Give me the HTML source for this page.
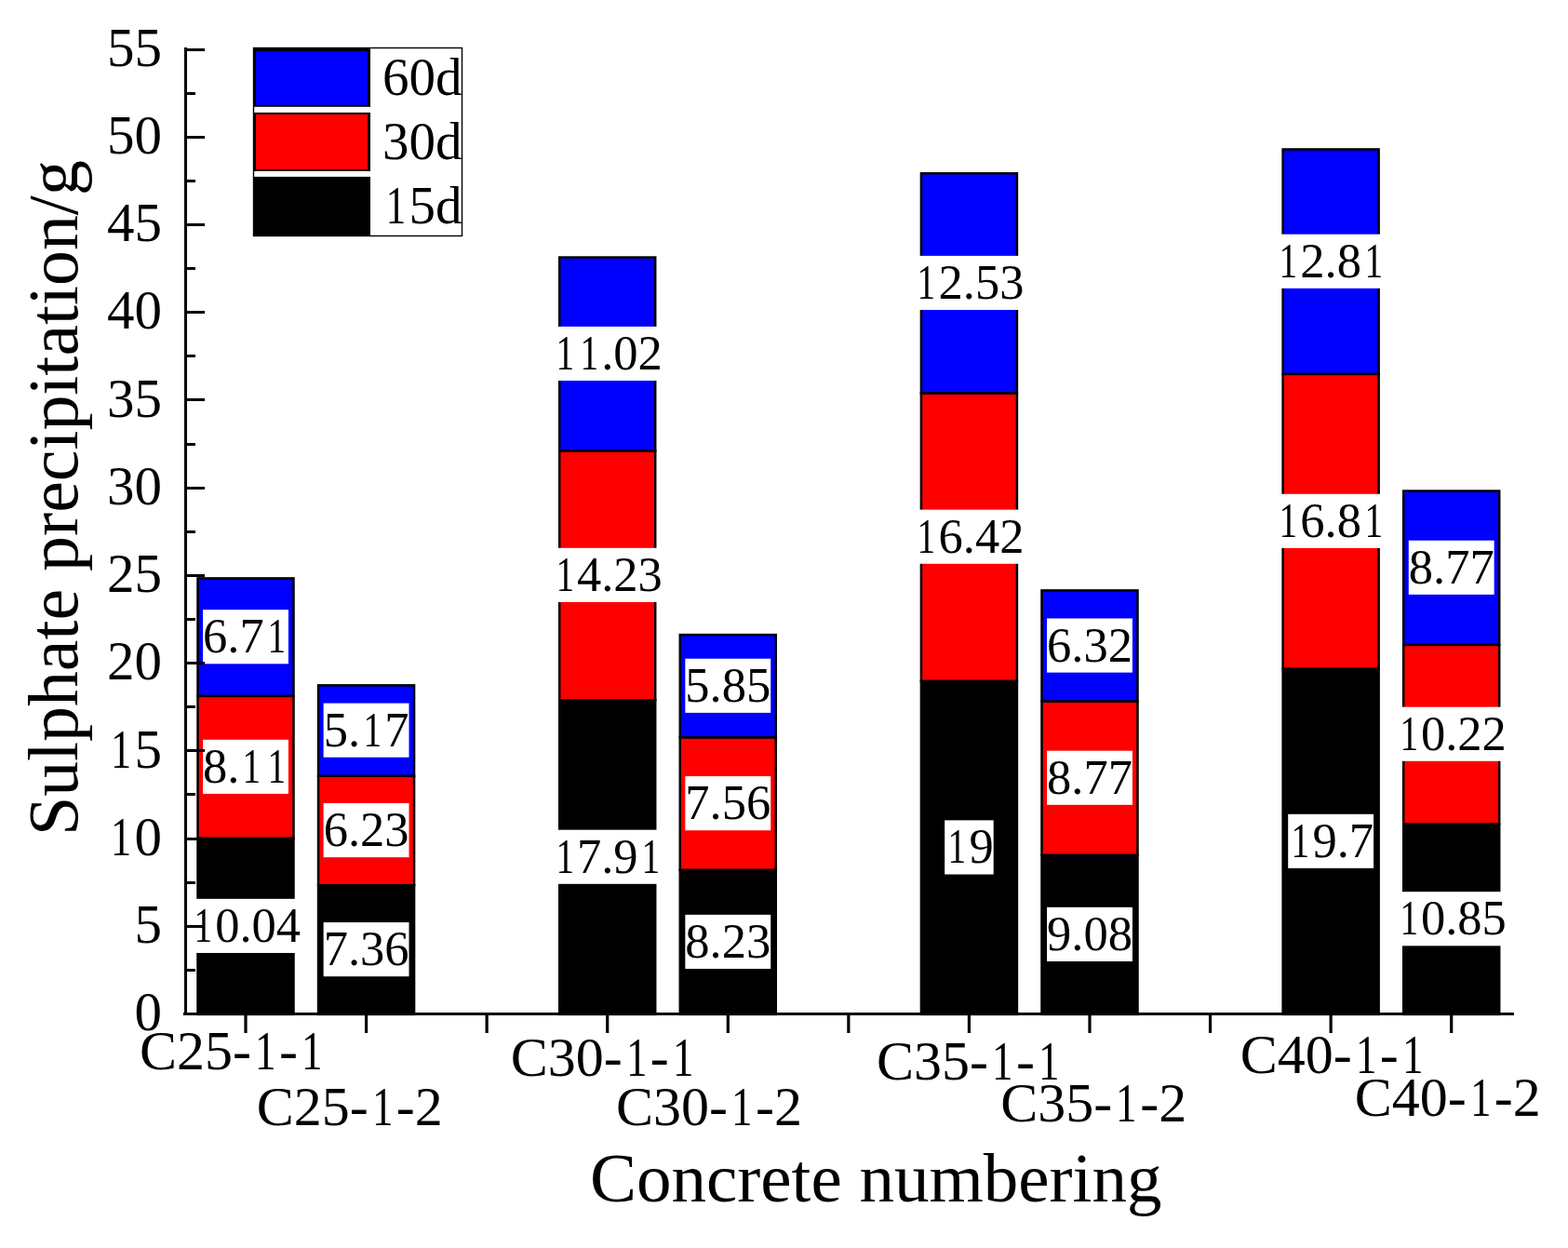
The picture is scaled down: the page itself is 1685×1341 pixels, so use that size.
<!DOCTYPE html><html><head><meta charset="utf-8"><title>Sulphate precipitation chart</title><style>
html,body{margin:0;padding:0;background:#fff;width:1685px;height:1341px;overflow:hidden;position:relative}
svg{display:block;position:absolute;left:0;top:0}
.t{position:absolute;white-space:nowrap;font-family:"Liberation Serif","Times New Roman",serif;color:#000;line-height:1.1074em;margin:0;padding:0}
.o{display:inline-block;transform-origin:0.2639em 0;transform:translateX(0.0000em) scaleX(0.75)}
</style></head><body>
<svg width="1685" height="1341" viewBox="0 0 1685 1341">
<rect x="0" y="0" width="1685" height="1341" fill="#fff"/>
<rect x="212.50" y="900.70" width="103.00" height="189.20" fill="#000000" stroke="#000" stroke-width="2.5"/>
<rect x="212.50" y="747.86" width="103.00" height="152.83" fill="#ff0000" stroke="#000" stroke-width="2.5"/>
<rect x="212.50" y="621.41" width="103.00" height="126.45" fill="#0000ff" stroke="#000" stroke-width="2.5"/>
<rect x="342.07" y="951.20" width="103.00" height="138.70" fill="#000000" stroke="#000" stroke-width="2.5"/>
<rect x="342.07" y="833.80" width="103.00" height="117.40" fill="#ff0000" stroke="#000" stroke-width="2.5"/>
<rect x="342.07" y="736.37" width="103.00" height="97.43" fill="#0000ff" stroke="#000" stroke-width="2.5"/>
<rect x="601.21" y="752.39" width="103.00" height="337.51" fill="#000000" stroke="#000" stroke-width="2.5"/>
<rect x="601.21" y="484.22" width="103.00" height="268.16" fill="#ff0000" stroke="#000" stroke-width="2.5"/>
<rect x="601.21" y="276.55" width="103.00" height="207.67" fill="#0000ff" stroke="#000" stroke-width="2.5"/>
<rect x="730.78" y="934.81" width="103.00" height="155.09" fill="#000000" stroke="#000" stroke-width="2.5"/>
<rect x="730.78" y="792.34" width="103.00" height="142.47" fill="#ff0000" stroke="#000" stroke-width="2.5"/>
<rect x="730.78" y="682.09" width="103.00" height="110.24" fill="#0000ff" stroke="#000" stroke-width="2.5"/>
<rect x="989.92" y="731.85" width="103.00" height="358.06" fill="#000000" stroke="#000" stroke-width="2.5"/>
<rect x="989.92" y="422.41" width="103.00" height="309.43" fill="#ff0000" stroke="#000" stroke-width="2.5"/>
<rect x="989.92" y="186.28" width="103.00" height="236.13" fill="#0000ff" stroke="#000" stroke-width="2.5"/>
<rect x="1119.49" y="918.79" width="103.00" height="171.11" fill="#000000" stroke="#000" stroke-width="2.5"/>
<rect x="1119.49" y="753.52" width="103.00" height="165.27" fill="#ff0000" stroke="#000" stroke-width="2.5"/>
<rect x="1119.49" y="634.42" width="103.00" height="119.10" fill="#0000ff" stroke="#000" stroke-width="2.5"/>
<rect x="1378.63" y="718.65" width="103.00" height="371.25" fill="#000000" stroke="#000" stroke-width="2.5"/>
<rect x="1378.63" y="401.87" width="103.00" height="316.78" fill="#ff0000" stroke="#000" stroke-width="2.5"/>
<rect x="1378.63" y="160.46" width="103.00" height="241.40" fill="#0000ff" stroke="#000" stroke-width="2.5"/>
<rect x="1508.20" y="885.43" width="103.00" height="204.47" fill="#000000" stroke="#000" stroke-width="2.5"/>
<rect x="1508.20" y="692.84" width="103.00" height="192.60" fill="#ff0000" stroke="#000" stroke-width="2.5"/>
<rect x="1508.20" y="527.57" width="103.00" height="165.27" fill="#0000ff" stroke="#000" stroke-width="2.5"/>
<rect x="204.94" y="965.83" width="118.12" height="58.14" fill="#fff"/>
<rect x="218.06" y="794.81" width="91.88" height="58.14" fill="#fff"/>
<rect x="218.06" y="655.17" width="91.88" height="58.14" fill="#fff"/>
<rect x="347.63" y="991.08" width="91.88" height="58.14" fill="#fff"/>
<rect x="347.63" y="863.03" width="91.88" height="58.14" fill="#fff"/>
<rect x="347.63" y="755.61" width="91.88" height="58.14" fill="#fff"/>
<rect x="593.65" y="891.67" width="118.12" height="58.14" fill="#fff"/>
<rect x="593.65" y="588.83" width="118.12" height="58.14" fill="#fff"/>
<rect x="593.65" y="350.92" width="118.12" height="58.14" fill="#fff"/>
<rect x="736.34" y="982.88" width="91.88" height="58.14" fill="#fff"/>
<rect x="736.34" y="834.10" width="91.88" height="58.14" fill="#fff"/>
<rect x="736.34" y="707.75" width="91.88" height="58.14" fill="#fff"/>
<rect x="1015.17" y="881.40" width="52.50" height="58.14" fill="#fff"/>
<rect x="982.36" y="547.66" width="118.12" height="58.14" fill="#fff"/>
<rect x="982.36" y="274.88" width="118.12" height="58.14" fill="#fff"/>
<rect x="1125.05" y="974.87" width="91.88" height="58.14" fill="#fff"/>
<rect x="1125.05" y="806.68" width="91.88" height="58.14" fill="#fff"/>
<rect x="1125.05" y="664.50" width="91.88" height="58.14" fill="#fff"/>
<rect x="1384.19" y="874.81" width="91.88" height="58.14" fill="#fff"/>
<rect x="1371.07" y="530.79" width="118.12" height="58.14" fill="#fff"/>
<rect x="1371.07" y="251.70" width="118.12" height="58.14" fill="#fff"/>
<rect x="1500.64" y="958.20" width="118.12" height="58.14" fill="#fff"/>
<rect x="1500.64" y="759.66" width="118.12" height="58.14" fill="#fff"/>
<rect x="1513.76" y="580.73" width="91.88" height="58.14" fill="#fff"/>
<rect x="272.5" y="51.5" width="224" height="202" fill="#fff" stroke="#000" stroke-width="1.4"/>
<rect x="272" y="51" width="126" height="63.8" fill="#000"/>
<rect x="275" y="55.1" width="120.2" height="57.7" fill="#0000ff"/>
<rect x="272" y="120.9" width="126" height="63" fill="#000"/>
<rect x="275" y="122.9" width="120.2" height="59.2" fill="#ff0000"/>
<rect x="272" y="189.9" width="126" height="64" fill="#000"/>
</svg>
<div class="t" style="left:204.94px;top:965px;font-size:52.5px;"><span class="o">1</span>0.04</div>
<div class="t" style="left:218.06px;top:794px;font-size:52.5px;">8.<span class="o">1</span><span class="o">1</span></div>
<div class="t" style="left:218.06px;top:654px;font-size:52.5px;">6.7<span class="o">1</span></div>
<div class="t" style="left:347.63px;top:990px;font-size:52.5px;">7.36</div>
<div class="t" style="left:347.63px;top:862px;font-size:52.5px;">6.23</div>
<div class="t" style="left:347.63px;top:755px;font-size:52.5px;">5.<span class="o">1</span>7</div>
<div class="t" style="left:593.65px;top:891px;font-size:52.5px;"><span class="o">1</span>7.9<span class="o">1</span></div>
<div class="t" style="left:593.65px;top:588px;font-size:52.5px;"><span class="o">1</span>4.23</div>
<div class="t" style="left:593.65px;top:350px;font-size:52.5px;"><span class="o">1</span><span class="o">1</span>.02</div>
<div class="t" style="left:736.34px;top:982px;font-size:52.5px;">8.23</div>
<div class="t" style="left:736.34px;top:833px;font-size:52.5px;">7.56</div>
<div class="t" style="left:736.34px;top:707px;font-size:52.5px;">5.85</div>
<div class="t" style="left:1015.17px;top:880px;font-size:52.5px;"><span class="o">1</span>9</div>
<div class="t" style="left:982.36px;top:547px;font-size:52.5px;"><span class="o">1</span>6.42</div>
<div class="t" style="left:982.36px;top:274px;font-size:52.5px;"><span class="o">1</span>2.53</div>
<div class="t" style="left:1125.05px;top:974px;font-size:52.5px;">9.08</div>
<div class="t" style="left:1125.05px;top:806px;font-size:52.5px;">8.77</div>
<div class="t" style="left:1125.05px;top:664px;font-size:52.5px;">6.32</div>
<div class="t" style="left:1384.19px;top:874px;font-size:52.5px;"><span class="o">1</span>9.7</div>
<div class="t" style="left:1371.07px;top:530px;font-size:52.5px;"><span class="o">1</span>6.8<span class="o">1</span></div>
<div class="t" style="left:1371.07px;top:251px;font-size:52.5px;"><span class="o">1</span>2.8<span class="o">1</span></div>
<div class="t" style="left:1500.64px;top:957px;font-size:52.5px;"><span class="o">1</span>0.85</div>
<div class="t" style="left:1500.64px;top:759px;font-size:52.5px;"><span class="o">1</span>0.22</div>
<div class="t" style="left:1513.76px;top:580px;font-size:52.5px;">8.77</div>
<div class="t" style="left:410.95px;top:51px;font-size:57.0px;">60d</div>
<div class="t" style="left:410.95px;top:120px;font-size:57.0px;">30d</div>
<div class="t" style="left:410.95px;top:189px;font-size:57.0px;"><span class="o">1</span>5d</div>
<div class="t" style="left:144.50px;top:1055px;font-size:59.0px;">0</div>
<div class="t" style="left:144.50px;top:961px;font-size:59.0px;">5</div>
<div class="t" style="left:115.00px;top:867px;font-size:59.0px;"><span class="o">1</span>0</div>
<div class="t" style="left:115.00px;top:773px;font-size:59.0px;"><span class="o">1</span>5</div>
<div class="t" style="left:115.00px;top:678px;font-size:59.0px;">20</div>
<div class="t" style="left:115.00px;top:584px;font-size:59.0px;">25</div>
<div class="t" style="left:115.00px;top:490px;font-size:59.0px;">30</div>
<div class="t" style="left:115.00px;top:396px;font-size:59.0px;">35</div>
<div class="t" style="left:115.00px;top:301px;font-size:59.0px;">40</div>
<div class="t" style="left:115.00px;top:207px;font-size:59.0px;">45</div>
<div class="t" style="left:115.00px;top:113px;font-size:59.0px;">50</div>
<div class="t" style="left:115.00px;top:19px;font-size:59.0px;">55</div>
<div class="t" style="left:150.00px;top:1096px;font-size:60.0px;">C25-<span class="o">1</span>-<span class="o">1</span></div>
<div class="t" style="left:275.85px;top:1156px;font-size:60.0px;">C25-<span class="o">1</span>-2</div>
<div class="t" style="left:548.65px;top:1103px;font-size:60.0px;">C30-<span class="o">1</span>-<span class="o">1</span></div>
<div class="t" style="left:661.95px;top:1156px;font-size:60.0px;">C30-<span class="o">1</span>-2</div>
<div class="t" style="left:941.95px;top:1107px;font-size:60.0px;">C35-<span class="o">1</span>-<span class="o">1</span></div>
<div class="t" style="left:1075.25px;top:1152px;font-size:60.0px;">C35-<span class="o">1</span>-2</div>
<div class="t" style="left:1332.65px;top:1100px;font-size:60.0px;">C40-<span class="o">1</span>-<span class="o">1</span></div>
<div class="t" style="left:1455.85px;top:1146px;font-size:60.0px;">C40-<span class="o">1</span>-2</div>
<div class="t" style="left:634.02px;top:1224px;font-size:75px;">Concrete numbering</div>
<div class="t" style="left:0;top:0;font-size:75.76px;transform-origin:0 67px;transform:translate(83.30px,830.97px) rotate(-90deg)">Sulphate precipitation/g</div>
<svg width="1685" height="1341" viewBox="0 0 1685 1341">
<line x1="197" y1="1089.5" x2="1627" y2="1089.5" stroke="#000" stroke-width="3"/>
<line x1="199.5" y1="51" x2="199.5" y2="1091" stroke="#000" stroke-width="3"/>
<line x1="199.5" y1="1042.50" x2="210" y2="1042.50" stroke="#000" stroke-width="3"/>
<line x1="199.5" y1="995.50" x2="220" y2="995.50" stroke="#000" stroke-width="3"/>
<line x1="199.5" y1="948.50" x2="210" y2="948.50" stroke="#000" stroke-width="3"/>
<line x1="199.5" y1="901.50" x2="220" y2="901.50" stroke="#000" stroke-width="3"/>
<line x1="199.5" y1="853.50" x2="210" y2="853.50" stroke="#000" stroke-width="3"/>
<line x1="199.5" y1="806.50" x2="220" y2="806.50" stroke="#000" stroke-width="3"/>
<line x1="199.5" y1="759.50" x2="210" y2="759.50" stroke="#000" stroke-width="3"/>
<line x1="199.5" y1="712.50" x2="220" y2="712.50" stroke="#000" stroke-width="3"/>
<line x1="199.5" y1="665.50" x2="210" y2="665.50" stroke="#000" stroke-width="3"/>
<line x1="199.5" y1="618.50" x2="220" y2="618.50" stroke="#000" stroke-width="3"/>
<line x1="199.5" y1="571.50" x2="210" y2="571.50" stroke="#000" stroke-width="3"/>
<line x1="199.5" y1="524.50" x2="220" y2="524.50" stroke="#000" stroke-width="3"/>
<line x1="199.5" y1="477.50" x2="210" y2="477.50" stroke="#000" stroke-width="3"/>
<line x1="199.5" y1="429.50" x2="220" y2="429.50" stroke="#000" stroke-width="3"/>
<line x1="199.5" y1="382.50" x2="210" y2="382.50" stroke="#000" stroke-width="3"/>
<line x1="199.5" y1="335.50" x2="220" y2="335.50" stroke="#000" stroke-width="3"/>
<line x1="199.5" y1="288.50" x2="210" y2="288.50" stroke="#000" stroke-width="3"/>
<line x1="199.5" y1="241.50" x2="220" y2="241.50" stroke="#000" stroke-width="3"/>
<line x1="199.5" y1="194.50" x2="210" y2="194.50" stroke="#000" stroke-width="3"/>
<line x1="199.5" y1="147.50" x2="220" y2="147.50" stroke="#000" stroke-width="3"/>
<line x1="199.5" y1="100.50" x2="210" y2="100.50" stroke="#000" stroke-width="3"/>
<line x1="199.5" y1="53.50" x2="220" y2="53.50" stroke="#000" stroke-width="3"/>
<line x1="264.00" y1="1089.5" x2="264.00" y2="1110" stroke="#000" stroke-width="3.2"/>
<line x1="393.57" y1="1089.5" x2="393.57" y2="1110" stroke="#000" stroke-width="3.2"/>
<line x1="523.14" y1="1089.5" x2="523.14" y2="1110" stroke="#000" stroke-width="3.2"/>
<line x1="652.71" y1="1089.5" x2="652.71" y2="1110" stroke="#000" stroke-width="3.2"/>
<line x1="782.28" y1="1089.5" x2="782.28" y2="1110" stroke="#000" stroke-width="3.2"/>
<line x1="911.85" y1="1089.5" x2="911.85" y2="1110" stroke="#000" stroke-width="3.2"/>
<line x1="1041.42" y1="1089.5" x2="1041.42" y2="1110" stroke="#000" stroke-width="3.2"/>
<line x1="1170.99" y1="1089.5" x2="1170.99" y2="1110" stroke="#000" stroke-width="3.2"/>
<line x1="1300.56" y1="1089.5" x2="1300.56" y2="1110" stroke="#000" stroke-width="3.2"/>
<line x1="1430.13" y1="1089.5" x2="1430.13" y2="1110" stroke="#000" stroke-width="3.2"/>
<line x1="1559.70" y1="1089.5" x2="1559.70" y2="1110" stroke="#000" stroke-width="3.2"/>
</svg>
</body></html>
